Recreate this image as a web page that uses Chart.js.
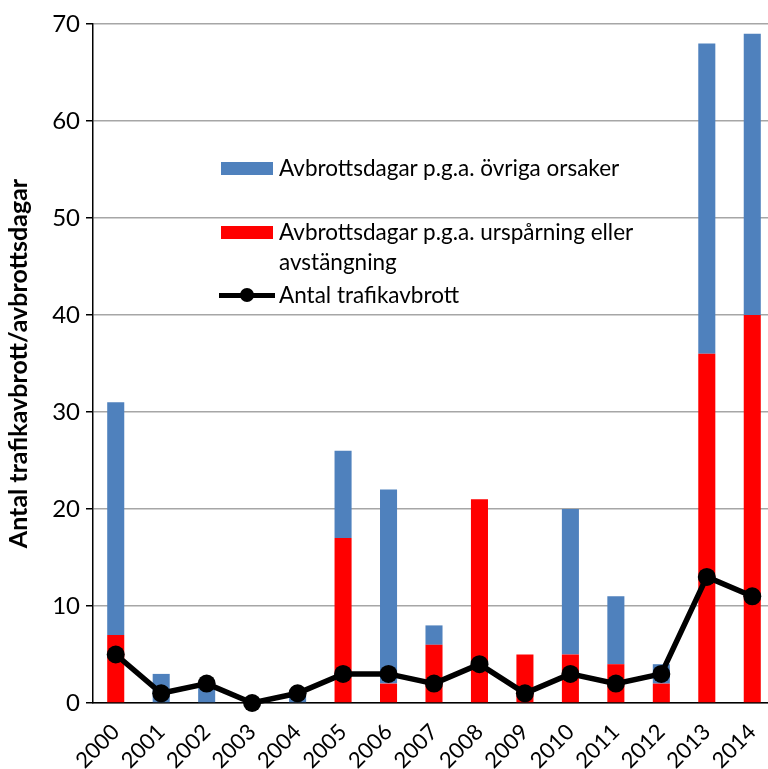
<!DOCTYPE html>
<html lang="sv">
<head>
    <meta charset="UTF-8">
    <title>Trafikavbrott</title>
    <script src="https://cdn.jsdelivr.net/npm/chart.js"></script>
    <style>
        * {
            margin: 0;
            padding: 0;
            box-sizing: border-box;
        }

        body {
            background: #fff;
            font-family: Lato, 'Open Sans', sans-serif;
            overflow: hidden;
        }

        /* the original plot runs a few px past the right edge, so the canvas is wider and clipped */
        .wrap {
            position: relative;
            width: 768px;
            height: 769px;
            overflow: hidden;
        }

        .legend {
            position: absolute;
            left: 219px;
            top: 150px;
            font-size: 22.5px;
            color: #000;
            line-height: 30px;
        }

        .legend .item {
            position: absolute;
            left: 0;
            white-space: nowrap;
        }

        .legend .swatch {
            position: absolute;
            left: 2px;
            width: 52px;
            height: 13px;
        }

        .legend .text {
            position: absolute;
            left: 60px;
        }

        .legend .line {
            position: absolute;
            left: 0;
            width: 56px;
            height: 5px;
            background: #000;
        }

        .legend .dot {
            position: absolute;
            left: 21px;
            width: 14px;
            height: 14px;
            border-radius: 50%;
            background: #000;
        }
    </style>
</head>
<body>
    <div class="wrap">
        <canvas id="chart" width="784" height="769"></canvas>
        <div class="legend" id="legend"></div>
    </div>

    <script>
        const years = ['2000', '2001', '2002', '2003', '2004', '2005', '2006', '2007',
            '2008', '2009', '2010', '2011', '2012', '2013', '2014'];
        const urspaarning = [7, 0, 0, 0, 0, 17, 2, 6, 21, 5, 5, 4, 2, 36, 40];
        const ovriga = [24, 3, 2, 0, 1, 9, 20, 2, 0, 0, 15, 7, 2, 32, 29];
        const avbrott = [5, 1, 2, 0, 1, 3, 3, 2, 4, 1, 3, 2, 3, 13, 11];
        const yTicks = [0, 10, 20, 30, 40, 50, 60, 70];

        const BLUE = '#4f81bd';
        const RED = '#ff0000';
        const FONT = "Lato, 'Open Sans', sans-serif";

        const ctx = document.getElementById('chart').getContext('2d');

        const chart = new Chart(ctx, {
            type: 'bar',
            data: {
                labels: years,
                datasets: [
                    {
                        type: 'line',
                        label: 'Antal trafikavbrott',
                        data: avbrott,
                        stack: 'line',
                        order: 0,
                        borderColor: '#000',
                        backgroundColor: '#000',
                        borderWidth: 5.5,
                        pointRadius: 9,
                        pointBackgroundColor: '#000',
                        pointBorderWidth: 0,
                        tension: 0,
                        clip: false
                    },
                    {
                        label: 'Avbrottsdagar p.g.a. urspårning eller avstängning',
                        data: urspaarning,
                        stack: 'bars',
                        order: 1,
                        backgroundColor: RED,
                        barPercentage: 0.375,
                        categoryPercentage: 1
                    },
                    {
                        label: 'Avbrottsdagar p.g.a. övriga orsaker',
                        data: ovriga,
                        stack: 'bars',
                        order: 2,
                        backgroundColor: BLUE,
                        barPercentage: 0.375,
                        categoryPercentage: 1
                    }
                ]
            },
            options: {
                responsive: false,
                animation: false,
                layout: {
                    padding: { left: 0, right: 0, top: 24, bottom: 0 }
                },
                scales: {
                    x: {
                        stacked: true,
                        grid: {
                            drawOnChartArea: false,
                            drawTicks: true,
                            tickLength: 13,
                            tickColor: 'rgba(0,0,0,0)'
                        },
                        border: { color: '#000', width: 1.5 },
                        ticks: {
                            color: '#000',
                            font: { family: FONT, size: 22 },
                            minRotation: 45,
                            maxRotation: 45,
                            padding: 3
                        },
                        afterFit: (scale) => { scale.height = 66; }
                    },
                    y: {
                        stacked: true,
                        min: 0,
                        max: 70,
                        afterBuildTicks: (scale) => {
                            scale.ticks = yTicks.map(v => ({ value: v }));
                        },
                        grid: {
                            color: '#a6a6a6',
                            lineWidth: 1.5,
                            tickColor: '#000',
                            tickLength: 7
                        },
                        border: { color: '#000', width: 1.5 },
                        ticks: {
                            color: '#000',
                            font: { family: FONT, size: 24 },
                            padding: 6
                        },
                        title: {
                            display: true,
                            text: 'Antal trafikavbrott/avbrottsdagar',
                            color: '#000',
                            font: { family: FONT, size: 25, weight: 'bold' },
                            padding: { top: 4, bottom: 2 }
                        },
                        afterFit: (scale) => { scale.width = 93; }
                    }
                },
                plugins: {
                    legend: { display: false },
                    tooltip: { enabled: false }
                }
            }
        });

        // legend drawn as html over the plot, like the original
        const legend = document.getElementById('legend');
        const items = [
            { ds: 2, top: 3 },
            { ds: 1, top: 67, wrap: ['Avbrottsdagar p.g.a. urspårning eller', 'avstängning'] },
            { ds: 0, top: 130 }
        ];
        items.forEach(it => {
            const ds = chart.data.datasets[it.ds];
            const el = document.createElement('div');
            el.className = 'item';
            el.style.top = it.top + 'px';
            if (ds.type === 'line') {
                el.innerHTML = '<div class="line" style="top:13px"></div><div class="dot" style="top:8px"></div>';
            } else {
                el.innerHTML = '<div class="swatch" style="top:9px;background:' + ds.backgroundColor + '"></div>';
            }
            const txt = document.createElement('div');
            txt.className = 'text';
            txt.innerHTML = (it.wrap || [ds.label]).join('<br>');
            el.appendChild(txt);
            legend.appendChild(el);
        });
    </script>
</body>
</html>
